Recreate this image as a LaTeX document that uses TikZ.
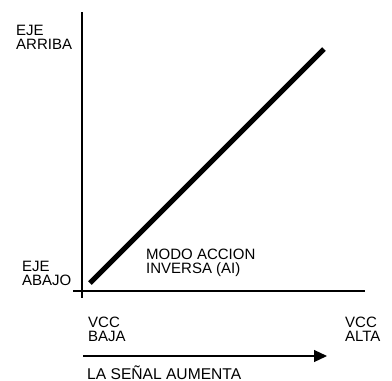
\documentclass[tikz,border=0pt]{standalone}
\usepackage{fontspec}
\setmainfont{Liberation Sans}
\usetikzlibrary{arrows.meta,positioning}
\tikzset{
	axis/.style={color=black, line width=1.6pt},
	modeline/.style={color=black, line width=5pt},
	dirarrow/.style={-{Triangle[width=12pt,length=13pt]}, color=black, line width=1.2pt},
	lbl/.style={inner sep=0, anchor=base west, align=left, font=\fontsize{15}{14}\selectfont}
}
\begin{document}
\begin{tikzpicture}[x=1pt,y=-1pt]
	\useasboundingbox (0,0) rectangle (392,381);
	%%%% axes
	\coordinate (ytop) at (82,12);
	\coordinate (ybot) at (82,298);
	\coordinate (xleft) at (73,291);
	\coordinate (xright) at (365,291);
	\draw[axis] (ytop) -- (ybot);
	\draw[axis] (xleft) -- (xright);
	
	%%%% mode line
	\coordinate (lo) at (90,283);
	\coordinate (hi) at (324,49);
	\draw[modeline] (lo) -- (hi);
	
	%%%% labels (base = last line)
	\node[lbl] (arriba) at (16,49) {EJE\\ARRIBA};
	\node[lbl] (abajo) at (22,285) {EJE\\ABAJO};
	\node[lbl] (modo) at (146,273) {MODO ACCION\\INVERSA (AI)};
	\node[lbl] (baja) at (88,341) {VCC\\BAJA};
	\node[lbl] (alta) at (345,341) {VCC\\ALTA};
	
	%%%% signal arrow
	\coordinate (aleft) at (83,356);
	\coordinate (aright) at (327,356);
	\draw[dirarrow] (aleft) -- (aright);
	\node[lbl,font=\fontsize{15.6}{14}\selectfont] (senal) at (87,379) {LA SEÑAL AUMENTA};
\end{tikzpicture}
\end{document}
